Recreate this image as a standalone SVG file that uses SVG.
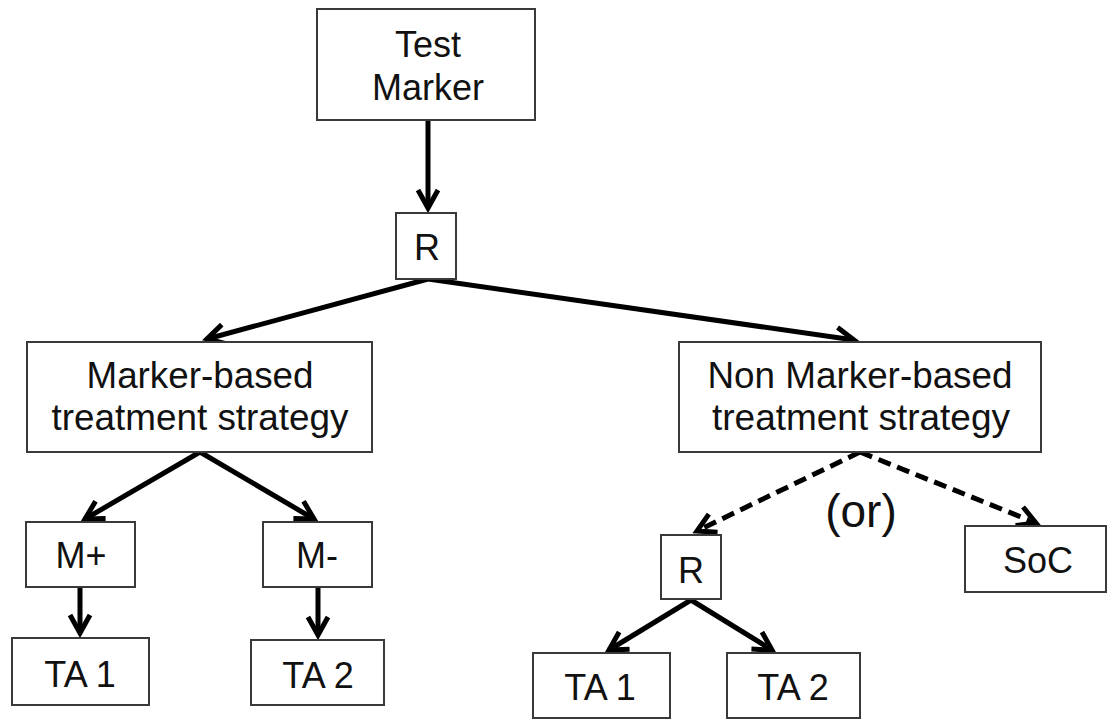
<svg xmlns="http://www.w3.org/2000/svg" width="1112" height="719" viewBox="0 0 1112 719">
  <style>
    .box { fill: #ffffff; stroke: #3a3a3a; stroke-width: 2; }
    .lbl { font-family: "Liberation Sans", Arial, sans-serif; font-size: 36px; fill: #111111; text-anchor: middle; }
    .edge { stroke: #000000; stroke-width: 5; fill: none; marker-end: url(#chev); }
    .dash { stroke-dasharray: 13 7; }
  </style>
  <defs>
    <!-- open chevron arrowhead, sized in user units -->
    <marker id="chev" markerUnits="userSpaceOnUse" orient="auto" refX="0" refY="0" markerWidth="44" markerHeight="44" viewBox="-22 -22 44 44" overflow="visible">
      <path d="M-18,-10 L0,0 L-18,10" fill="none" stroke="#000000" stroke-width="5" stroke-linejoin="miter"/>
    </marker>
  </defs>

  <rect width="1112" height="719" fill="#ffffff"/>

  <g id="connectors">
    <line class="edge" x1="428" y1="120" x2="428" y2="208"/>
    <line class="edge" x1="428" y1="279" x2="207" y2="339"/>
    <line class="edge" x1="428" y1="279" x2="854" y2="340"/>
    <line class="edge" x1="200" y1="452" x2="85" y2="519"/>
    <line class="edge" x1="200" y1="452" x2="314" y2="519"/>
    <line class="edge" x1="80" y1="587" x2="80" y2="633"/>
    <line class="edge" x1="318" y1="587" x2="318" y2="635"/>
    <line class="edge dash" x1="860" y1="452" x2="697" y2="531"/>
    <line class="edge dash" x1="860" y1="452" x2="1036" y2="523"/>
    <line class="edge" x1="691" y1="600" x2="609" y2="650"/>
    <line class="edge" x1="691" y1="600" x2="772" y2="650"/>
  </g>

  <g id="test-marker">
    <rect class="box" x="317" y="9" width="218" height="111"/>
    <text class="lbl" x="428" y="57">Test</text>
    <text class="lbl" x="428" y="100">Marker</text>
  </g>

  <g id="rand-top">
    <rect class="box" x="396" y="213" width="60" height="66"/>
    <text class="lbl" x="427" y="260">R</text>
  </g>

  <g id="marker-based">
    <rect class="box" x="27" y="342" width="345" height="110"/>
    <text class="lbl" x="200" y="388" textLength="227" lengthAdjust="spacingAndGlyphs">Marker-based</text>
    <text class="lbl" x="200" y="430" textLength="297" lengthAdjust="spacingAndGlyphs">treatment strategy</text>
  </g>

  <g id="non-marker-based">
    <rect class="box" x="679" y="342" width="362" height="110"/>
    <text class="lbl" x="860" y="388" textLength="305" lengthAdjust="spacingAndGlyphs">Non Marker-based</text>
    <text class="lbl" x="861" y="430" textLength="298" lengthAdjust="spacingAndGlyphs">treatment strategy</text>
  </g>

  <g id="m-plus">
    <rect class="box" x="26" y="522" width="109" height="65"/>
    <text class="lbl" x="81" y="568">M+</text>
  </g>

  <g id="m-minus">
    <rect class="box" x="263" y="522" width="109" height="65"/>
    <text class="lbl" x="317" y="568">M-</text>
  </g>

  <g id="ta1-left">
    <rect class="box" x="12" y="638" width="137" height="67"/>
    <text class="lbl" x="80" y="687">TA 1</text>
  </g>

  <g id="ta2-left">
    <rect class="box" x="251" y="640" width="133" height="65"/>
    <text class="lbl" x="318" y="688">TA 2</text>
  </g>

  <g id="or-label">
    <text class="lbl" x="861" y="527" style="font-size:46px">(or)</text>
  </g>

  <g id="rand-right">
    <rect class="box" x="661" y="535" width="60" height="64"/>
    <text class="lbl" x="691" y="583">R</text>
  </g>

  <g id="soc">
    <rect class="box" x="965" y="526" width="141" height="66"/>
    <text class="lbl" x="1038" y="573">SoC</text>
  </g>

  <g id="ta1-right">
    <rect class="box" x="533" y="653" width="137" height="65"/>
    <text class="lbl" x="600" y="700">TA 1</text>
  </g>

  <g id="ta2-right">
    <rect class="box" x="727" y="653" width="133" height="65"/>
    <text class="lbl" x="793" y="700">TA 2</text>
  </g>
</svg>
